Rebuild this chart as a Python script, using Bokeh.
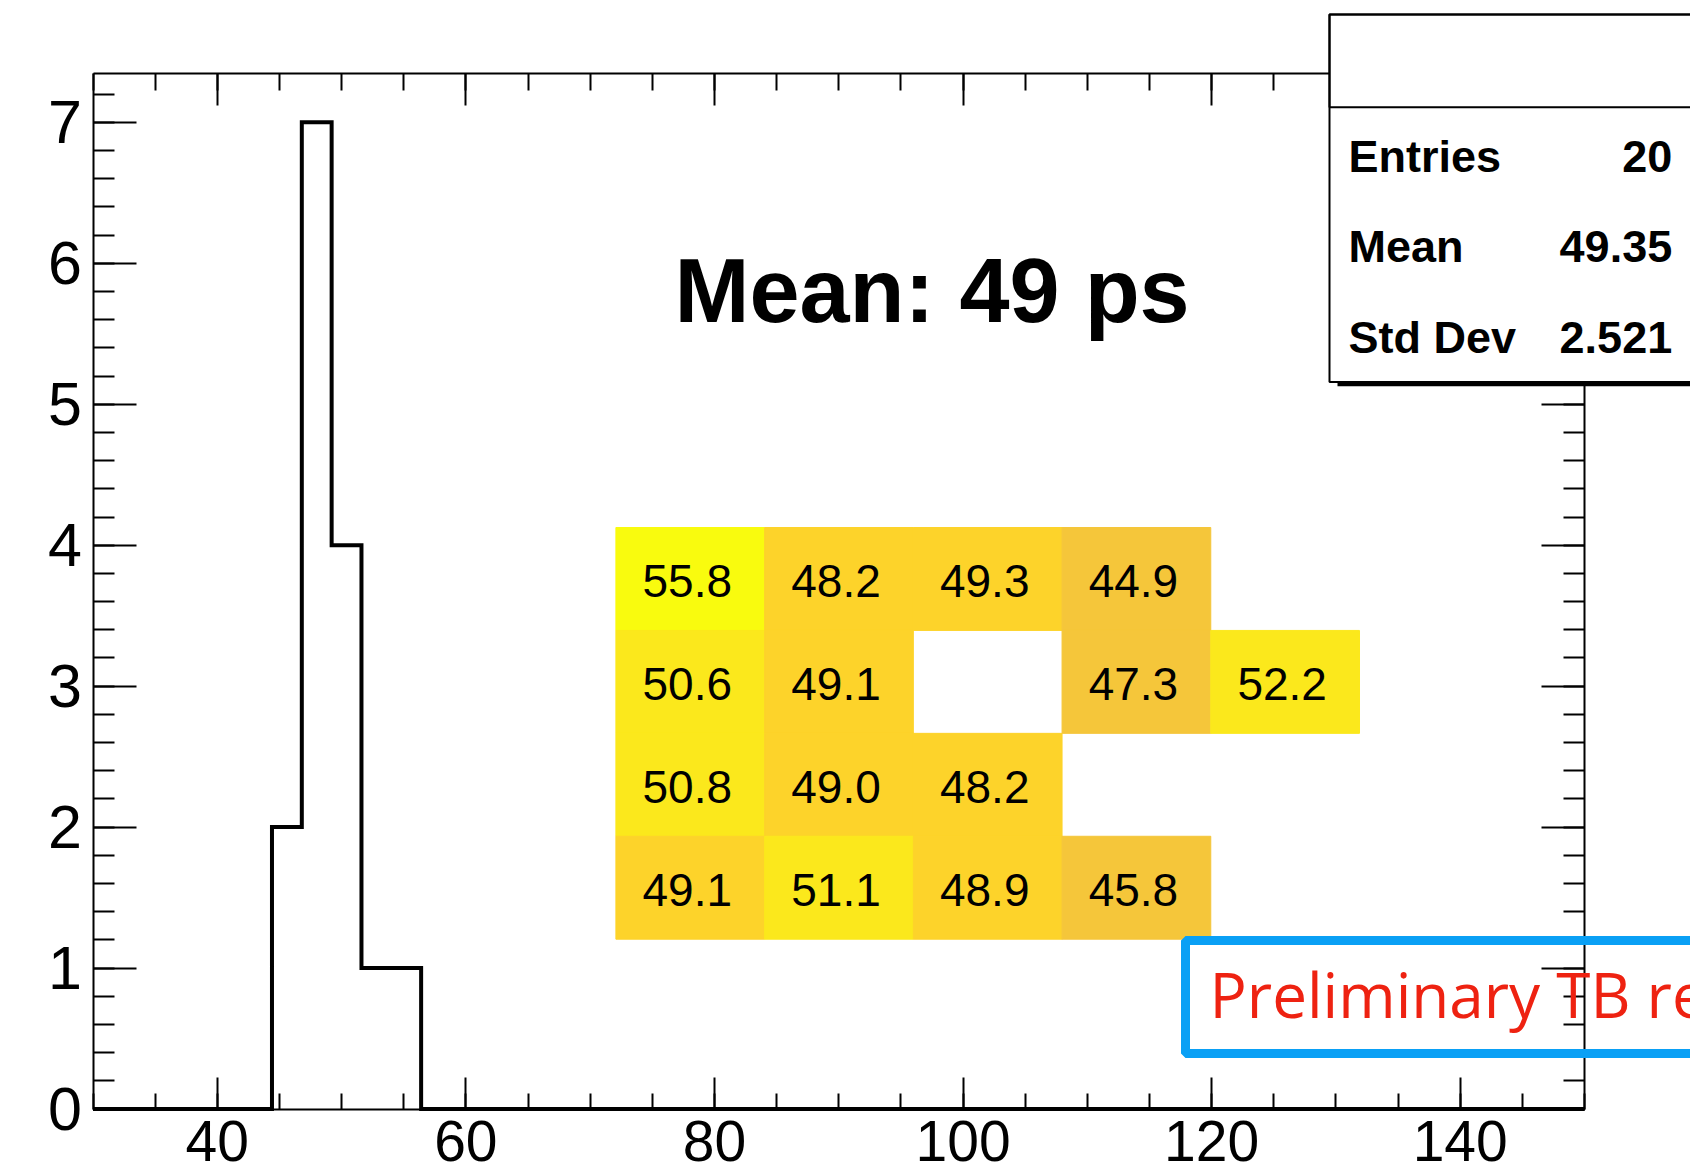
import numpy as np
from bokeh.plotting import figure
from bokeh.models import (ColumnDataSource, LinearAxis, FixedTicker, BoxAnnotation,
                          Label, Range1d)
from bokeh.transform import linear_cmap
from bokeh.core.properties import value
from bokeh.embed import file_html
from bokeh.resources import INLINE

# ---------------- data ----------------
# histogram: 50 bins over [30, 150]; only these bins are non-empty
hist_range = (30.0, 150.0)
hist_nbins = 50
hist_bin_index = [6, 7, 8, 9, 10]
hist_counts = [2, 7, 4, 1, 1]

# per-channel values of the 5 x 4 map (top row first), None = empty cell
cell_row0 = [55.8, 48.2, 49.3, 44.9, None]
cell_row1 = [50.6, 49.1, None, 47.3, 52.2]
cell_row2 = [50.8, 49.0, 48.2, None, None]
cell_row3 = [49.1, 51.1, 48.9, 45.8, None]
cell_rows = [cell_row0, cell_row1, cell_row2, cell_row3]

stats_names = ["Entries", "Mean", "Std Dev"]
stats_values = ["20", "49.35", "2.521"]
mean_text = "Mean: 49 ps"
note_text = "Preliminary TB results"

x_major = [40, 60, 80, 100, 120, 140]
y_major = [0, 1, 2, 3, 4, 5, 6, 7]
x_minor = [30 + 5 * i for i in range(25)]
y_minor = [round(0.2 * i, 1) for i in range(37)]

# ---------------- layout (page pixels of the histogram frame) ----------------
W, H = 1690, 1172
X0, X1, Y0, Y1 = 30.0, 150.0, 0.0, 7.35
FL, FR, FT, FB = 92.5, 1584.0, 72.5, 1108.5
SX = (FR - FL) / (X1 - X0)
SY = (FB - FT) / (Y1 - Y0)


def X(px):
    return X0 + (px - FL) / SX


def Y(py):
    return Y0 + (FB - py) / SY


FONT = "Liberation Sans"

p = figure(width=W, height=H, x_range=Range1d(X(0), X(W)), y_range=Range1d(Y(H), Y(0)),
           output_backend="svg", toolbar_location=None,
           x_axis_location=None, y_axis_location=None, min_border=0)
p.xgrid.visible = False
p.ygrid.visible = False
p.outline_line_color = None
p.background_fill_color = "white"
p.border_fill_color = "white"

xt = FixedTicker(ticks=x_major, minor_ticks=x_minor)
yt = FixedTicker(ticks=y_major, minor_ticks=y_minor)


def make_axis(ticker, loc, bounds, tick_major, tick_minor, label_size, standoff):
    ax = LinearAxis(ticker=ticker, fixed_location=loc, bounds=bounds)
    ax.axis_line_color = "black"
    ax.axis_line_width = 2
    ax.major_tick_line_color = "black"
    ax.major_tick_line_width = 2
    ax.minor_tick_line_color = "black"
    ax.minor_tick_line_width = 2
    ax.major_tick_in = tick_major
    ax.major_tick_out = 0
    ax.minor_tick_in = tick_minor
    ax.minor_tick_out = 0
    if label_size:
        ax.major_label_text_font = FONT
        ax.major_label_text_font_size = label_size
        ax.major_label_text_color = "black"
        ax.major_label_standoff = standoff
    else:
        ax.major_label_text_font_size = "0px"
        ax.major_label_text_alpha = 0
    return ax


p.add_layout(make_axis(xt, Y0, (X0, X1), 32, 16, "57px", 12), "below")
p.add_layout(make_axis(yt, X0, (Y0, Y1), 43, 21, "61px", 11), "left")
p.add_layout(make_axis(xt, Y1, (X0, X1), 32, 17, None, 0), "above")
p.add_layout(make_axis(yt, X1, (Y0, Y1), 43, 21, None, 0), "right")

# ---------------- histogram ----------------
edges = np.linspace(hist_range[0], hist_range[1], hist_nbins + 1)
counts = np.zeros(hist_nbins)
counts[hist_bin_index] = hist_counts
p.step(x=edges, y=np.append(counts, counts[-1]), mode="after",
       line_color="black", line_width=4, line_join="miter")

# ---------------- channel map ----------------
# ROOT kBird palette, 20 contour levels
st = [0.0, 0.125, 0.25, 0.375, 0.5, 0.625, 0.75, 0.875, 1.0]
rr = [0.2082, 0.0592, 0.0780, 0.0232, 0.1802, 0.5301, 0.8186, 0.9956, 0.9764]
gg = [0.1664, 0.3599, 0.5041, 0.6419, 0.7178, 0.7492, 0.7328, 0.7862, 0.9832]
bb = [0.5293, 0.8684, 0.8385, 0.7914, 0.6425, 0.4662, 0.3499, 0.1968, 0.0539]
NDIV = 20
palette = []
for i in range(NDIV):
    t = int((i + 0.99) * 255 / NDIV) / 254.0
    c = [int(round(255 * np.interp(t, st, ch))) for ch in (rr, gg, bb)]
    palette.append("#%02x%02x%02x" % tuple(c))

HX0, HDX = X(615.4), (1359.0 - 615.4) / 5 / SX     # left edge / width of a cell
HY0, HDY = Y(527.0), (938.7 - 527.0) / 4 / SY      # top edge / height of a cell
cx, cy, cv, ct = [], [], [], []
for r, row in enumerate(cell_rows):
    for c, v in enumerate(row):
        if v is None:
            continue
        cx.append(HX0 + HDX * (c + 0.5))
        cy.append(HY0 - HDY * (r + 0.5))
        cv.append(v)
        ct.append("%.1f" % v)
zmax = max(cv)
src = ColumnDataSource(dict(x=cx, y=cy, v=cv, t=ct))
cmap = linear_cmap("v", palette, 0.0, zmax)
p.rect(x="x", y="y", width=HDX, height=HDY, source=src,
       fill_color=cmap, line_color=cmap, line_width=1)
p.text(x="x", y="y", text="t", source=src, text_font=value(FONT),
       text_font_size="46px", text_color="black", text_align="center",
       text_baseline="middle", x_offset=-3, y_offset=2)

# ---------------- big label ----------------
p.add_layout(Label(x=X(674), y=Y(290), text=mean_text, text_font=FONT,
                   text_font_style="bold", text_font_size="90px", text_color="black",
                   text_align="left", text_baseline="middle"))

# ---------------- stats box ----------------
p.add_layout(BoxAnnotation(left=X(1337), right=X(1900), top=Y(18), bottom=Y(385.7),
                           fill_color="black", fill_alpha=1, line_color=None))
p.add_layout(BoxAnnotation(left=X(1329), right=X(1900), top=Y(14), bottom=Y(381.5),
                           fill_color="white", fill_alpha=1, line_color="black",
                           line_alpha=1, line_width=2))
p.add_layout(BoxAnnotation(left=X(1329), right=X(1900), top=Y(14), bottom=Y(106.7),
                           fill_color=None, fill_alpha=0, line_color="black",
                           line_alpha=1, line_width=2))
for i, (nm, vv) in enumerate(zip(stats_names, stats_values)):
    cy_px = 155.7 + 90.5 * i
    p.add_layout(Label(x=X(1348), y=Y(cy_px), text=nm, text_font=FONT,
                       text_font_style="bold", text_font_size="45px", text_color="black",
                       text_align="left", text_baseline="middle"))
    p.add_layout(Label(x=X(1671.7), y=Y(cy_px), text=vv, text_font=FONT,
                       text_font_style="bold", text_font_size="45px", text_color="black",
                       text_align="right", text_baseline="middle"))

# ---------------- preliminary note ----------------
p.add_layout(BoxAnnotation(left=X(1185), right=X(2000), top=Y(940), bottom=Y(1053),
                           fill_color=None, fill_alpha=0, line_color="#0aa0f5",
                           line_alpha=1, line_width=9))
p.add_layout(Label(x=X(1209), y=Y(993), text=note_text, text_font="Open Sans",
                   text_font_size="62px", text_color="#ee2211",
                   text_align="left", text_baseline="middle"))

open("out.html", "w").write(file_html(p, INLINE))
